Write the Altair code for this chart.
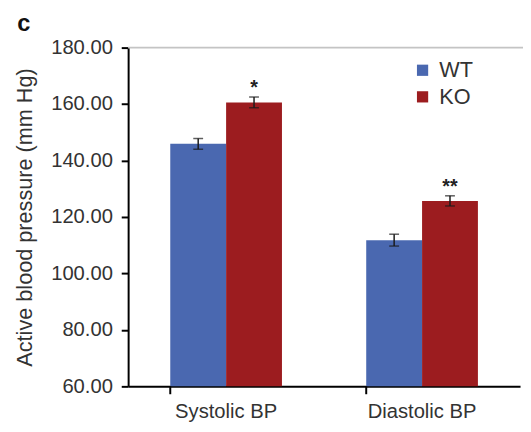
import altair as alt
import pandas as pd

categories = ["Systolic BP", "Diastolic BP"]
groups = ["WT", "KO"]
wt_values = [145.9, 111.8]
ko_values = [160.6, 125.7]
wt_err = [1.9, 2.1]
ko_err = [1.9, 1.8]
wt_sig = ["", ""]
ko_sig = ["*", "**"]
y_ticks = [60, 80, 100, 120, 140, 160, 180]
colors = ["#4a68b0", "#9c1c1f"]

rows = []
for i, c in enumerate(categories):
    rows.append(dict(cat=c, group="WT", value=wt_values[i], err=wt_err[i], sig=wt_sig[i]))
    rows.append(dict(cat=c, group="KO", value=ko_values[i], err=ko_err[i], sig=ko_sig[i]))
df = pd.DataFrame(rows)
df["lo"] = df["value"] - df["err"]
df["hi"] = df["value"] + df["err"]

FONT = "Liberation Sans"
W, H = 398, 344

xenc = alt.X("cat:N", sort=categories,
             scale=alt.Scale(paddingInner=0.43, paddingOuter=0.215),
             axis=alt.Axis(title=None, labelAngle=0, ticks=False, domainColor="black",
                           domainWidth=2, labelFontSize=20.5, labelPadding=16,
                           labelColor="#333", labelFont=FONT))
xoff = alt.XOffset("group:N", sort=groups, scale=alt.Scale(paddingInner=0, paddingOuter=0))
yscale = alt.Scale(domain=[60, 180], nice=False, zero=False)

base = alt.Chart(df)

bars = base.mark_bar().encode(
    x=xenc, xOffset=xoff,
    y=alt.Y("value:Q", scale=yscale,
            axis=alt.Axis(values=y_ticks, format=".2f", domainColor="black", domainWidth=2,
                          tickColor="black", tickWidth=2, tickSize=7, labelFontSize=20.5,
                          labelColor="#333", labelPadding=9, labelFont=FONT,
                          title="Active blood pressure (mm Hg)", titleFontSize=22,
                          titleFontWeight="normal", titleColor="#333", titleFont=FONT,
                          titlePadding=14, grid=False)),
    y2=alt.datum(60),
    color=alt.Color("group:N", sort=groups,
                    scale=alt.Scale(domain=groups, range=colors),
                    legend=alt.Legend(orient="none", legendX=288, legendY=12, title=None,
                                      symbolType="square", symbolSize=130, labelFontSize=22,
                                      rowPadding=5, symbolStrokeWidth=0, labelOffset=6,
                                      labelFont=FONT, labelColor="#333")),
)

err_rule = base.mark_rule(color="#1a1a1a", strokeWidth=1.5).encode(
    x=alt.X("cat:N", sort=categories), xOffset=xoff,
    y=alt.Y("lo:Q", scale=yscale), y2="hi:Q")

caps_hi = base.mark_tick(color="#1a1a1a", thickness=1.5, size=10).encode(
    x=alt.X("cat:N", sort=categories), xOffset=xoff, y=alt.Y("hi:Q", scale=yscale))
caps_lo = base.mark_tick(color="#1a1a1a", thickness=1.5, size=10).encode(
    x=alt.X("cat:N", sort=categories), xOffset=xoff, y=alt.Y("lo:Q", scale=yscale))

stars = base.mark_text(baseline="alphabetic", dy=-3, fontSize=20, fontWeight="bold",
                       font=FONT, color="#222").encode(
    x=alt.X("cat:N", sort=categories), xOffset=xoff,
    y=alt.Y("hi:Q", scale=yscale), text="sig:N")

top_line = alt.Chart(pd.DataFrame({"v": [180]})).mark_rule(color="#c4c4c4", strokeWidth=2).encode(
    y=alt.Y("v:Q", scale=yscale), x=alt.value(0), x2=alt.value(W + 3))

sep_ticks = alt.Chart(pd.DataFrame({"cat": categories})).mark_rule(color="black", strokeWidth=2).encode(
    x=alt.X("cat:N", sort=categories, bandPosition=0), y=alt.value(H), y2=alt.value(H + 8))

panel = alt.Chart(pd.DataFrame({"t": ["c"]})).mark_text(
    fontSize=24, fontWeight="bold", font=FONT, color="#111", align="center", baseline="middle").encode(
    x=alt.value(-106), y=alt.value(-24), text="t:N")

chart = alt.layer(top_line, bars, err_rule, caps_hi, caps_lo, stars, sep_ticks, panel).properties(
    width=W, height=H,
    autosize=alt.AutoSizeParams(type="none"),
    padding={"left": 122, "top": 37, "right": 3, "bottom": 35},
    background="white",
).configure_view(stroke=None)

chart.save("out.html", embed_options={"renderer": "svg", "actions": False})
